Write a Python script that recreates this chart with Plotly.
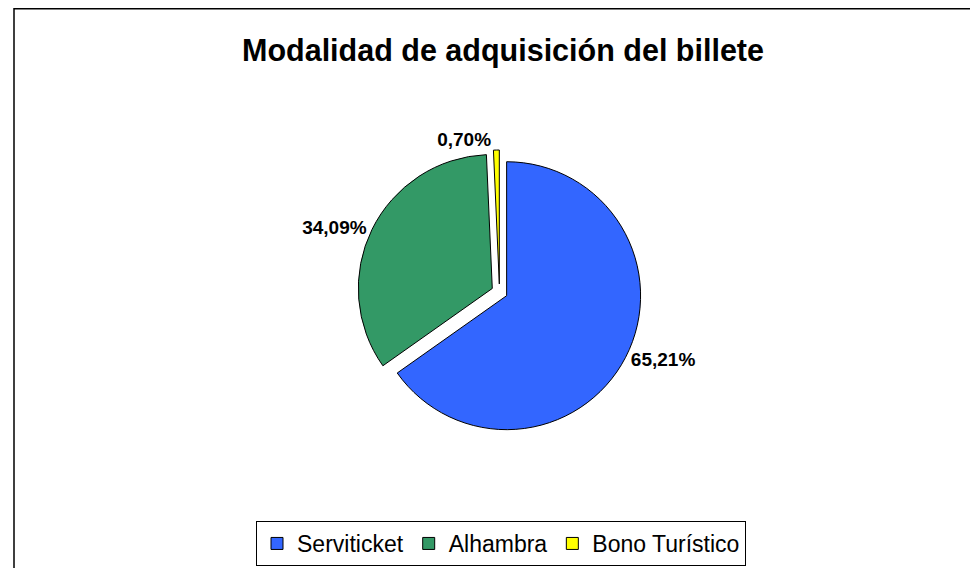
import plotly.graph_objects as go

labels = ["Serviticket", "Alhambra", "Bono Turístico"]
values = [65.21, 34.09, 0.70]
colors = ["#3366FF", "#339966", "#FFFF00"]
title = "Modalidad de adquisición del billete"

# page body has an 8px margin, so the figure is sized to fill the rest of the window
W, H = 970, 560

fig = go.Figure()
fig.add_trace(go.Pie(
    labels=labels, values=values, sort=False, direction="clockwise", rotation=0,
    marker=dict(colors=colors, line=dict(color="black", width=1)),
    pull=[0.06, 0.06, 0.06],
    textposition="outside", texttemplate="<b>%{percent:.2%}</b>",
    textfont=dict(family="Liberation Sans, Arial", size=19, color="black"),
    domain=dict(x=[186 / W, 797 / W], y=[1 - 426 / H, 1 - 142 / H]),
    showlegend=True,
))
fig.update_layout(
    width=W, height=H, margin=dict(l=0, r=0, t=0, b=0, autoexpand=False),
    paper_bgcolor="white", plot_bgcolor="white",
    separators=",.",
    font=dict(family="Liberation Sans, Arial", color="black"),
    title=dict(text="<b>" + title + "</b>", x=495 / W, xanchor="center", y=1 - 42 / H, yanchor="middle",
               font=dict(size=30.5, color="black")),
    legend=dict(orientation="h", x=493 / W, xanchor="center", y=1 - 513 / H, yanchor="top",
                bordercolor="black", borderwidth=1, font=dict(size=23, color="black"),
                itemwidth=30, traceorder="normal"),
    shapes=[dict(type="rect", xref="paper", yref="paper", x0=6 / W, x1=1.2, y0=-0.2, y1=1 - 0.75 / H,
                 line=dict(color="black", width=1.5))],
)
fig.write_html("out.html")
